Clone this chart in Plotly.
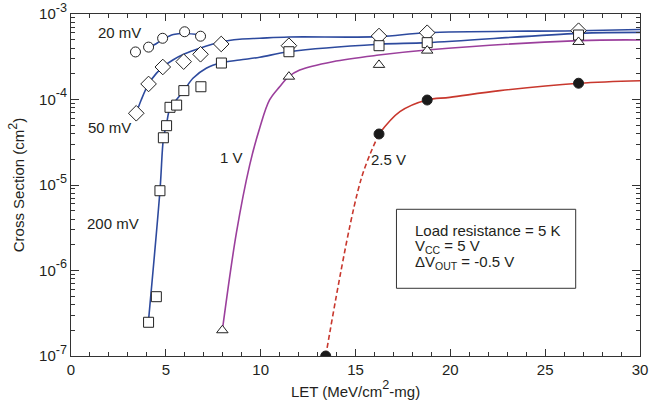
import plotly.graph_objects as go

# ---- data ----
# 20 mV (open circles)
x20 = [3.40, 4.09, 4.83, 5.99, 6.83]
y20 = [3.6e-4, 4.1e-4, 5.2e-4, 6.2e-4, 5.5e-4]
fx20 = [4.09, 4.55, 4.90, 5.40, 6.00, 6.83]
fy20 = [4.0e-4, 4.58e-4, 5.14e-4, 5.75e-4, 5.91e-4, 5.68e-4]

# 50 mV (open diamonds)
x50 = [3.44, 4.09, 4.84, 5.94, 6.83, 7.92, 11.49, 16.24, 18.78, 26.76]
y50 = [6.9e-5, 1.52e-4, 2.4e-4, 2.77e-4, 3.38e-4, 4.46e-4, 4.26e-4, 5.53e-4, 6.04e-4, 6.38e-4]
fx50 = [3.44, 3.70, 4.09, 4.50, 4.84, 5.37, 5.94, 6.78, 7.90, 8.89, 9.95, 11.48, 16.23, 18.78, 26.76, 30.0]
fy50 = [6.9e-5, 9.87e-5, 1.52e-4, 2.02e-4, 2.40e-4, 2.90e-4, 3.38e-4, 3.97e-4, 4.71e-4,
        5.06e-4, 5.20e-4, 5.38e-4, 5.43e-4, 6.04e-4, 6.38e-4, 6.59e-4]

# 200 mV (open squares)
x200 = [4.09, 4.50, 4.69, 4.87, 5.04, 5.22, 5.57, 5.95, 6.85, 7.93, 11.49, 16.24, 18.78, 26.76]
y200 = [2.48e-7, 4.94e-7, 8.57e-6, 3.57e-5, 4.94e-5, 8.1e-5, 8.6e-5, 1.27e-4, 1.41e-4,
        2.67e-4, 3.62e-4, 4.26e-4, 4.62e-4, 5.68e-4]
fx200 = [4.09, 4.69, 4.88, 5.02, 5.23, 5.55, 5.95, 6.43, 7.13, 7.92, 8.89, 9.95, 11.49, 16.23, 18.78, 26.78, 30.0]
fy200 = [2.64e-7, 8.57e-6, 3.61e-5, 4.90e-5, 8.11e-5, 9.87e-5, 1.27e-4, 1.77e-4, 2.32e-4,
         2.69e-4, 2.90e-4, 3.12e-4, 3.62e-4, 4.43e-4, 4.62e-4, 5.94e-4, 6.10e-4]

# 1 V (open triangles)
x1v = [7.98, 11.49, 16.24, 18.78, 26.76]
y1v = [2.0e-7, 1.85e-4, 2.54e-4, 3.73e-4, 4.71e-4]
fx1v = [7.98, 8.72, 9.42, 9.95, 10.47, 11.0, 11.48, 12.06, 13.80, 16.23, 18.76, 26.78, 30.0]
fy1v = [2.0e-7, 2.75e-6, 1.71e-5, 4.65e-5, 9.87e-5, 1.41e-4, 1.85e-4, 2.21e-4, 2.77e-4,
        3.31e-4, 3.79e-4, 4.88e-4, 4.97e-4]

# 2.5 V (filled circles)
x25 = [13.43, 16.24, 18.78, 26.76]
y25 = [1.0e-7, 3.95e-5, 9.86e-5, 1.55e-4]
fx25 = [16.24, 17.34, 18.76, 19.97, 22.61, 26.78, 30.0]
fy25 = [3.95e-5, 7.2e-5, 9.87e-5, 1.06e-4, 1.27e-4, 1.55e-4, 1.66e-4]
dx25 = [13.43, 15.28, 16.24]
dy25 = [1.0e-7, 1.14e-5, 3.95e-5]

xticks = [0, 5, 10, 15, 20, 25, 30]
yticks = [1e-7, 1e-6, 1e-5, 1e-4, 1e-3]
yexp = ["-7", "-6", "-5", "-4", "-3"]

BLUE = "#2d4a9e"
PURPLE = "#9b3f9c"
RED = "#c8372d"
TXT = "#231f20"
FONT = "Liberation Sans, Arial, sans-serif"
FS = 15


def sup(s):
    return "<span style='font-size:18px'><sup>" + s + "</sup></span>"


yticktext = ["10" + sup(e) for e in yexp]

fig = go.Figure()

def fit(x, y, color, dash="solid"):
    fig.add_trace(go.Scatter(x=x, y=y, mode="lines", line=dict(color=color, width=1.6, shape="spline", dash=dash),
                             hoverinfo="skip", showlegend=False))

def pts(x, y, symbol, size, fill="white"):
    fig.add_trace(go.Scatter(x=x, y=y, mode="markers",
                             marker=dict(symbol=symbol, size=size, color=fill,
                                         line=dict(color="#222222", width=1)),
                             showlegend=False))

fit(fx20, fy20, BLUE)
fit(fx50, fy50, BLUE)
fit(fx200, fy200, BLUE)
fit(fx1v, fy1v, PURPLE)
fit(fx25, fy25, RED)
fit(dx25, dy25, RED, dash="5px,3px")

pts(x20, y20, "circle", 10)
pts(x50, y50, "diamond", 12)
pts(x200, y200, "square", 10)
pts(x1v, y1v, "triangle-up", 10)
pts(x25, y25, "circle", 10, fill="#1a1a1a")

labels = [("20 mV", 2.58, -3.222), ("50 mV", 2.05, -4.333), ("200 mV", 2.23, -5.456),
          ("1 V", 8.44, -4.684), ("2.5 V", 16.75, -4.696)]
for t, lx, ly in labels:
    fig.add_annotation(x=lx, y=ly, text=t, showarrow=False, xanchor="center", yanchor="middle",
                       font=dict(size=FS, color=TXT, family=FONT))

fig.add_shape(type="rect", xref="paper", yref="paper", x0=0.572, x1=0.887, y0=0.198, y1=0.429,
              line=dict(color="#333333", width=1), fillcolor="white")
box_lines = [("Load resistance = 5 K", 0.368), ("V<sub>CC</sub> = 5 V", 0.319),
             ("\u0394V<sub>OUT</sub> = -0.5 V", 0.274)]
for t, py in box_lines:
    fig.add_annotation(x=0.601, y=py, xref="paper", yref="paper", text=t, showarrow=False,
                       xanchor="left", yanchor="middle", font=dict(size=FS, color=TXT, family=FONT))

fig.update_layout(
    width=652, height=407,
    margin=dict(l=71, r=12, t=14, b=51),
    paper_bgcolor="white", plot_bgcolor="white",
    font=dict(family=FONT, size=FS, color=TXT),
    xaxis=dict(range=[0, 30], tickvals=xticks, ticks="inside", ticklen=7, tickcolor="#333333",
               showline=True, linecolor="#333333", linewidth=1, mirror="allticks", showgrid=False,
               zeroline=False, tickfont=dict(size=FS), automargin=False,
               minor=dict(dtick=1, ticks="inside", ticklen=4, tickcolor="#333333", showgrid=False),
               title=dict(text="LET (MeV/cm" + sup("2") + "-mg)", standoff=6, font=dict(size=FS))),
    yaxis=dict(type="log", range=[-7, -3], tickvals=yticks, ticktext=yticktext, ticks="inside",
               ticklen=8, tickcolor="#333333", showline=True, linecolor="#333333", linewidth=1,
               mirror="allticks", showgrid=False, zeroline=False, tickfont=dict(size=FS), automargin=False,
               minor=dict(tickvals=[m * 10 ** e for e in range(-7, -3) for m in range(2, 10)],
                          ticks="inside", ticklen=4, tickcolor="#333333", showgrid=False),
               title=dict(text="Cross Section (cm" + sup("2") + ")", standoff=10, font=dict(size=FS))),
)

fig.write_html("out.html")
